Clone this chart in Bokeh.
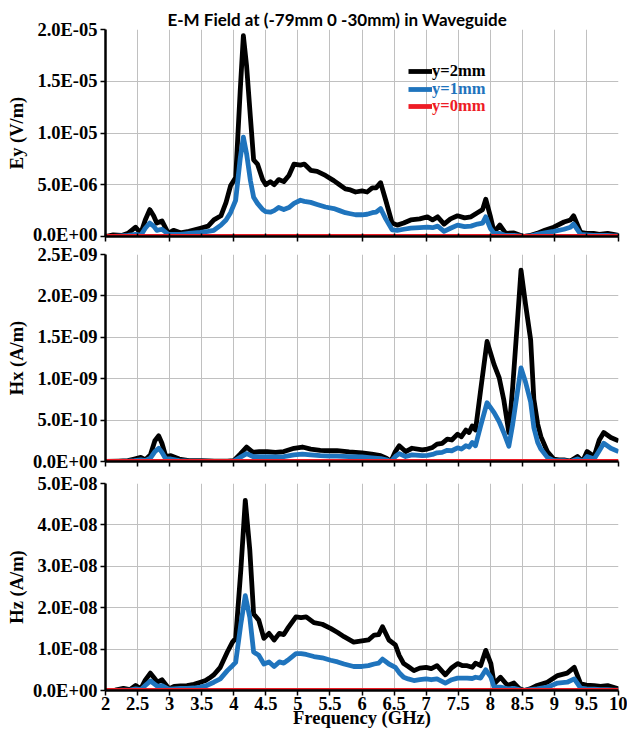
from bokeh.plotting import figure
from bokeh.models import (Range1d, FixedTicker, CustomJSTickFormatter, Legend,
                          LegendItem)
from bokeh.layouts import column
from bokeh.embed import file_html
from bokeh.resources import INLINE
import numpy as np

# ---------------------------------------------------------------- data
TITLE = "E-M Field at (-79mm 0 -30mm) in Waveguide"
SERIES_LABELS = ["y=2mm", "y=1mm", "y=0mm"]

x_half_ticks = [2, 2.5, 3, 3.5, 4, 4.5, 5, 5.5, 6, 6.5, 7, 7.5, 8, 8.5, 9, 9.5, 10]
x_int_ticks = [2, 3, 4, 5, 6, 7, 8, 9, 10]

ey_ticks = [0, 5e-6, 1e-5, 1.5e-5, 2e-5]
hx_ticks = [0, 5e-10, 1e-9, 1.5e-9, 2e-9, 2.5e-9]
hz_ticks = [0, 1e-8, 2e-8, 3e-8, 4e-8, 5e-8]

# Ey (units of 1e-6 V/m)
ey_freq = [
    2.00, 2.12, 2.25, 2.35, 2.47, 2.55, 2.62, 2.69, 2.75, 2.80,
    2.88, 2.98, 3.06, 3.17, 3.30, 3.48, 3.60, 3.69, 3.80, 3.88,
    3.95, 4.03, 4.10, 4.15, 4.20, 4.26, 4.31, 4.37, 4.45, 4.50,
    4.57, 4.63, 4.70, 4.78, 4.86, 4.94, 5.04, 5.10, 5.20, 5.30,
    5.43, 5.56, 5.65, 5.74, 5.82, 5.90, 6.00, 6.08, 6.16, 6.22,
    6.29, 6.37, 6.47, 6.55, 6.65, 6.76, 6.90, 7.02, 7.10, 7.18,
    7.28, 7.38, 7.49, 7.60, 7.70, 7.80, 7.88, 7.93, 8.00, 8.06,
    8.15, 8.24, 8.37, 8.52, 8.62, 8.73, 8.85, 8.99, 9.15, 9.25,
    9.30, 9.41, 9.50, 9.61, 9.70, 9.83, 9.92, 10.00]
ey_2mm = [
    0.0, 0.15, 0.1, 0.3, 0.9, 0.3, 1.6, 2.6, 2.0, 1.3,
    1.5, 0.3, 0.6, 0.35, 0.5, 0.8, 1.0, 1.6, 2.0, 3.3,
    4.9, 5.7, 14.0, 19.4, 16.5, 11.5, 7.4, 7.0, 5.5, 5.0,
    5.3, 5.0, 5.5, 5.3, 5.9, 7.0, 6.9, 7.0, 6.4, 6.3,
    5.9, 5.4, 5.0, 4.6, 4.5, 4.3, 4.4, 4.3, 4.7, 4.7,
    5.2, 3.5, 1.3, 1.1, 1.3, 1.6, 1.7, 1.9, 1.6, 1.9,
    1.2, 1.7, 2.0, 1.8, 1.9, 2.3, 2.6, 3.6, 2.0, 0.4,
    1.1, 0.3, 0.35, 0.0, 0.1, 0.3, 0.6, 0.9, 1.4, 1.6,
    2.0, 0.4, 0.3, 0.3, 0.2, 0.3, 0.2, 0.1]
ey_1mm = [
    0.0, 0.0, 0.05, 0.1, 0.2, 0.1, 0.8, 1.3, 1.0, 0.6,
    0.7, 0.2, 0.2, 0.2, 0.3, 0.4, 0.5, 0.6, 1.1, 1.6,
    2.3, 3.5, 7.5, 9.6, 8.0, 5.4, 3.8, 3.2, 2.6, 2.4,
    2.35, 2.5, 2.8, 2.6, 2.8, 3.2, 3.5, 3.4, 3.3, 3.1,
    2.85, 2.7, 2.5, 2.3, 2.2, 2.1, 2.1, 2.15, 2.3, 2.35,
    2.7, 1.7, 0.65, 0.6, 0.7, 0.8, 0.85, 0.9, 0.85, 1.0,
    0.5, 0.8, 1.1, 0.95, 1.0, 1.2, 1.3, 1.9, 0.8, 0.3,
    0.3, 0.1, 0.1, 0.0, 0.05, 0.2, 0.35, 0.5, 0.7, 0.9,
    1.2, 0.2, 0.15, 0.1, 0.1, 0.1, 0.05, 0.05]
ey_0mm_freq = [2.0, 10.0]
ey_0mm = [0.0, 0.0]
EY_UNIT = 1e-6

# Hx (units of 1e-10 A/m)
hx_freq = [
    2.00, 2.20, 2.35, 2.45, 2.55, 2.62, 2.70, 2.77, 2.83, 2.88,
    2.94, 3.02, 3.15, 3.30, 3.50, 3.70, 3.90, 4.00, 4.10, 4.20,
    4.30, 4.40, 4.52, 4.65, 4.78, 4.94, 5.07, 5.20, 5.35, 5.50,
    5.61, 5.80, 6.00, 6.15, 6.29, 6.38, 6.45, 6.52, 6.58, 6.68,
    6.78, 6.94, 7.02, 7.10, 7.17, 7.25, 7.33, 7.40, 7.49, 7.55,
    7.62, 7.67, 7.72, 7.77, 7.85, 7.95, 8.06, 8.14, 8.21, 8.29,
    8.35, 8.42, 8.48, 8.55, 8.63, 8.68, 8.74, 8.79, 8.89, 8.99,
    9.07, 9.15, 9.25, 9.36, 9.44, 9.51, 9.62, 9.70, 9.77, 9.88,
    10.00]
hx_2mm = [
    0.0, 0.05, 0.1, 0.3, 0.5, 0.2, 0.8, 2.5, 3.1, 2.2,
    0.6, 0.7, 0.3, 0.1, 0.1, 0.05, 0.05, 0.1, 0.9, 1.75,
    1.1, 1.2, 1.2, 1.1, 1.2, 1.6, 1.75, 1.5, 1.35, 1.3,
    1.3, 1.15, 1.05, 0.9, 0.7, 0.4, 0.0, 1.2, 1.9, 1.2,
    1.6, 1.4, 1.5, 1.7, 2.1, 2.2, 2.7, 2.6, 3.3, 3.0,
    3.8, 3.5, 4.3, 3.8, 8.6, 14.5, 11.7, 10.1, 7.5, 3.5,
    9.0, 16.5, 23.1, 19.0, 14.7, 7.5, 4.5, 3.0, 1.2, 0.3,
    0.2, 0.2, 0.05, 0.6, 0.0, 1.2, 0.6, 2.6, 3.5, 2.9,
    2.5]
hx_1mm = [
    0.0, 0.0, 0.05, 0.1, 0.2, 0.1, 0.4, 1.2, 1.6, 1.1,
    0.3, 0.3, 0.1, 0.05, 0.05, 0.02, 0.02, 0.05, 0.5, 0.95,
    0.6, 0.6, 0.6, 0.55, 0.6, 0.8, 0.9, 0.8, 0.7, 0.65,
    0.65, 0.6, 0.55, 0.45, 0.35, 0.2, 0.0, 0.6, 0.95, 0.6,
    0.8, 0.7, 0.75, 0.85, 1.05, 1.1, 1.35, 1.3, 1.65, 1.5,
    1.9, 1.75, 2.3, 1.9, 4.3, 7.1, 5.9, 4.8, 3.5, 1.85,
    4.5, 8.2, 11.3, 9.6, 7.2, 4.1, 2.3, 1.5, 0.5, 0.1,
    0.1, 0.1, 0.0, 0.3, 0.0, 0.6, 0.3, 1.3, 2.2, 1.6,
    1.2]
hx_0mm_freq = [2.0, 10.0]
hx_0mm = [0.0, 0.0]
HX_UNIT = 1e-10

# Hz (units of 1e-9 A/m)
hz_freq = [
    2.00, 2.15, 2.28, 2.38, 2.47, 2.55, 2.62, 2.70, 2.76, 2.81,
    2.88, 2.99, 3.07, 3.17, 3.27, 3.38, 3.48, 3.56, 3.62, 3.69,
    3.79, 3.90, 3.98, 4.03, 4.11, 4.18, 4.25, 4.31, 4.39, 4.47,
    4.55, 4.63, 4.71, 4.78, 4.84, 4.97, 5.05, 5.13, 5.25, 5.38,
    5.51, 5.62, 5.72, 5.87, 6.00, 6.10, 6.19, 6.26, 6.32, 6.42,
    6.52, 6.58, 6.65, 6.72, 6.81, 6.90, 7.00, 7.08, 7.17, 7.30,
    7.40, 7.49, 7.57, 7.64, 7.72, 7.77, 7.85, 7.93, 8.01, 8.06,
    8.16, 8.27, 8.37, 8.45, 8.53, 8.62, 8.73, 8.89, 9.05, 9.20,
    9.31, 9.41, 9.50, 9.62, 9.72, 9.83, 9.92, 10.00]
hz_2mm = [
    0.0, 0.1, 0.5, 0.2, 1.2, 0.4, 2.5, 4.2, 3.0, 2.0,
    2.6, 0.4, 1.0, 1.1, 1.2, 1.5, 2.0, 2.4, 3.0, 3.8,
    5.6, 9.3, 11.7, 12.6, 29.0, 45.9, 34.0, 18.5, 17.0, 12.6,
    13.8, 12.2, 13.8, 13.5, 15.0, 17.8, 17.6, 17.8, 16.4, 16.0,
    15.0, 14.0, 13.0, 11.7, 12.0, 12.2, 13.4, 13.5, 15.4, 12.2,
    11.0, 8.5, 6.5, 5.8, 4.8, 5.4, 5.6, 5.3, 6.0, 3.8,
    5.5, 6.5, 6.0, 6.0, 5.6, 6.6, 6.0, 9.7, 6.5, 1.6,
    3.2, 1.2, 1.8, 0.5, 0.0, 0.4, 1.2, 2.0, 3.6, 4.2,
    5.6, 1.6, 1.3, 1.2, 1.0, 1.2, 0.8, 0.4]
hz_1mm = [
    0.0, 0.0, 0.1, 0.1, 0.4, 0.2, 1.2, 2.3, 1.6, 1.0,
    1.2, 0.3, 0.4, 0.5, 0.5, 0.6, 0.8, 1.1, 1.5, 2.0,
    2.8, 4.8, 6.0, 6.8, 16.0, 22.9, 17.7, 9.3, 8.5, 6.4,
    6.9, 5.8, 6.9, 6.6, 7.3, 8.9, 8.9, 8.7, 8.2, 7.9,
    7.3, 6.9, 6.4, 5.8, 5.8, 6.0, 6.4, 6.6, 7.6, 6.4,
    5.6, 4.3, 3.2, 2.8, 2.4, 2.6, 2.8, 2.6, 2.8, 1.8,
    2.6, 3.0, 3.0, 3.0, 2.9, 3.2, 3.0, 5.0, 3.2, 0.8,
    0.8, 0.4, 0.5, 0.2, 0.0, 0.2, 0.4, 0.8, 1.8, 2.0,
    2.8, 0.6, 0.4, 0.3, 0.2, 0.2, 0.1, 0.1]
hz_0mm_freq = [2.0, 10.0]
hz_0mm = [0.0, 0.0]
HZ_UNIT = 1e-9

# ---------------------------------------------------------------- style
BLACK = "#000000"
BLUE = "#1F74BD"
RED = "#EE1C25"
GRID = "#c0c0c0"
SERIF = "Liberation Serif"
FS = "18.5px"

Y_FMT = CustomJSTickFormatter(code="""
if (tick === 0) { return "0.0E+00"; }
const parts = tick.toExponential(1).split("e");
const e = parseInt(parts[1], 10);
const m = Math.abs(e);
return parts[0] + "E" + (e < 0 ? "-" : "+") + (m < 10 ? "0" : "") + m;
""")
X_FMT = CustomJSTickFormatter(code="return String(tick);")
NO_FMT = CustomJSTickFormatter(code="return '';")


def make_panel(freq, v2, v1, f0, v0, unit, y_ticks, ylabel, top, bottom,
               x_ticks, x_minor, show_x):
    p = figure(output_backend="svg", toolbar_location=None,
               frame_width=513, frame_height=207,
               x_range=Range1d(2, 10), y_range=Range1d(0, y_ticks[-1]),
               min_border_left=105, min_border_right=9,
               min_border_top=top, min_border_bottom=bottom,
               background_fill_color="white", border_fill_color="white",
               outline_line_color=None)
    rs = []
    for fx, vals, col in ((freq, v2, BLACK), (freq, v1, BLUE), (f0, v0, RED)):
        r = p.line(fx, np.array(vals) * unit, line_color=col, line_width=4.8,
                   line_join="round")
        rs.append(r)

    xa = p.xaxis[0]
    xa.ticker = FixedTicker(ticks=x_ticks, minor_ticks=x_minor)
    ya = p.yaxis[0]
    ya.ticker = FixedTicker(ticks=y_ticks)
    ya.formatter = Y_FMT
    for ax in (xa, ya):
        ax.axis_line_color = BLACK
        ax.axis_line_width = 2.5
        ax.major_tick_line_color = BLACK
        ax.major_tick_line_width = 1.5
        ax.major_tick_out = 5
        ax.major_tick_in = 0
        ax.major_label_text_font = SERIF
        ax.major_label_text_font_style = "bold"
        ax.major_label_text_font_size = FS
        ax.major_label_text_color = BLACK
        ax.axis_label_text_font = SERIF
        ax.axis_label_text_font_style = "bold"
        ax.axis_label_text_font_size = FS
        ax.axis_label_text_color = BLACK
    ya.minor_tick_line_color = None
    ya.major_label_standoff = 3
    ya.axis_label = ylabel
    ya.axis_label_standoff = 3
    if x_minor:
        xa.minor_tick_line_color = BLACK
        xa.minor_tick_line_width = 1.5
        xa.minor_tick_in = 3
        xa.minor_tick_out = 0
    else:
        xa.minor_tick_line_color = None
    if show_x:
        xa.formatter = X_FMT
        xa.major_label_standoff = 1
        xa.axis_label = "Frequency (GHz)"
        xa.axis_label_standoff = -5
    else:
        xa.formatter = NO_FMT
        xa.major_label_text_font_size = "1px"
        xa.major_label_standoff = 0

    p.xgrid.ticker = FixedTicker(ticks=x_half_ticks)
    p.xgrid.grid_line_color = GRID
    p.xgrid.grid_line_width = 1
    p.ygrid.ticker = FixedTicker(ticks=y_ticks)
    p.ygrid.grid_line_color = GRID
    p.ygrid.grid_line_width = 1
    return p, rs


p1, r1 = make_panel(ey_freq, ey_2mm, ey_1mm, ey_0mm_freq, ey_0mm, EY_UNIT,
                    ey_ticks, "Ey (V/m)", 29, 8, x_int_ticks, x_half_ticks, False)
p2, r2 = make_panel(hx_freq, hx_2mm, hx_1mm, hx_0mm_freq, hx_0mm, HX_UNIT,
                    hx_ticks, "Hx (A/m)", 10, 11, x_half_ticks, [], False)
p3, r3 = make_panel(hz_freq, hz_2mm, hz_1mm, hz_0mm_freq, hz_0mm, HZ_UNIT,
                    hz_ticks, "Hz (A/m)", 11, 43, x_half_ticks, [], True)

# title (left aligned, shifted to sit where the reference title sits)
p1.title.text = TITLE
p1.title.align = "left"
p1.title.offset = 62
p1.title.standoff = 0
p1.title.text_font = "Lato"
p1.title.text_font_style = "bold"
p1.title.text_font_size = "17px"
p1.title.text_color = BLACK

# legend (one per series so each label keeps its own colour)
for r, lab, col, yy in zip(r1, SERIES_LABELS, (BLACK, BLUE, RED),
                           (155, 137.5, 120)):
    lg = Legend(items=[LegendItem(label=lab, renderers=[r])], location=(303, yy),
                glyph_width=24, glyph_height=16, label_height=16,
                label_standoff=0, padding=0, margin=0, spacing=0,
                border_line_color=None, background_fill_alpha=0,
                label_text_font=SERIF, label_text_font_style="bold",
                label_text_font_size="16.5px", label_text_color=col,
                label_text_baseline="middle")
    p1.add_layout(lg)

layout = column(p1, p2, p3, spacing=0)
open("out.html", "w").write(file_html(layout, INLINE))
